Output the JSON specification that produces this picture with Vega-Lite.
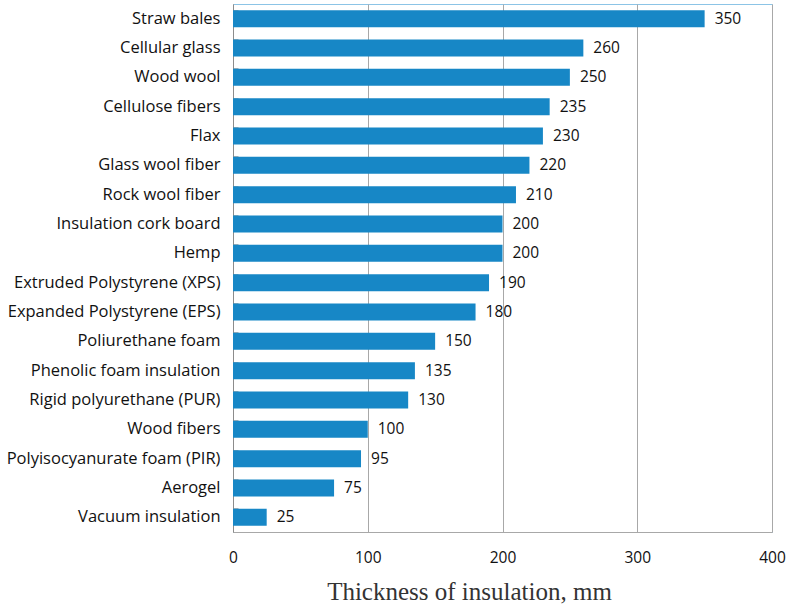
{
  "$schema": "https://vega.github.io/schema/vega-lite/v6.json",
  "autosize": {"type": "none"},
  "padding": {"left": 233, "top": 4, "right": 17, "bottom": 74},
  "width": 539,
  "height": 528,
  "background": "white",
  "data": {
    "values": [
      {"material": "Straw bales", "thickness": 350},
      {"material": "Cellular glass", "thickness": 260},
      {"material": "Wood wool", "thickness": 250},
      {"material": "Cellulose fibers", "thickness": 235},
      {"material": "Flax", "thickness": 230},
      {"material": "Glass wool fiber", "thickness": 220},
      {"material": "Rock wool fiber", "thickness": 210},
      {"material": "Insulation cork board", "thickness": 200},
      {"material": "Hemp", "thickness": 200},
      {"material": "Extruded Polystyrene (XPS)", "thickness": 190},
      {"material": "Expanded Polystyrene (EPS)", "thickness": 180},
      {"material": "Poliurethane foam", "thickness": 150},
      {"material": "Phenolic foam insulation", "thickness": 135},
      {"material": "Rigid polyurethane (PUR)", "thickness": 130},
      {"material": "Wood fibers", "thickness": 100},
      {"material": "Polyisocyanurate foam (PIR)", "thickness": 95},
      {"material": "Aerogel", "thickness": 75},
      {"material": "Vacuum insulation", "thickness": 25}
    ]
  },
  "encoding": {
    "y": {
      "field": "material",
      "type": "nominal",
      "sort": null,
      "scale": {"paddingInner": 0.42, "paddingOuter": 0.21},
      "axis": {
        "title": null,
        "bandPosition": 0,
        "tickSize": -5,
        "tickColor": "#b4b4b4",
        "domainColor": "#8c8c8c",
        "labelPadding": 18,
        "labelLimit": 300,
        "labelFont": "Open Sans",
        "labelFontSize": 16.5,
        "labelColor": "#111111"
      }
    },
    "x": {
      "field": "thickness",
      "type": "quantitative",
      "scale": {"domain": [0, 400]},
      "axis": {
        "title": "Thickness of insulation, mm",
        "values": [0, 100, 200, 300, 400],
        "ticks": false,
        "grid": true,
        "labelFlush": false,
        "gridColor": "#a8a8a8",
        "domainColor": "#a8a8a8",
        "labelPadding": 18,
        "labelFont": "Open Sans",
        "labelFontSize": 15.5,
        "labelColor": "#111111",
        "titleFont": "Liberation Serif",
        "titleFontSize": 25,
        "titleFontWeight": "normal",
        "titleColor": "#333333",
        "titlePadding": 14,
        "titleX": 236,
        "titleAlign": "center"
      }
    }
  },
  "layer": [
    {"mark": {"type": "bar", "color": "#1787c6"}},
    {
      "mark": {
        "type": "text",
        "align": "left",
        "baseline": "middle",
        "dx": 10,
        "font": "Open Sans",
        "fontSize": 15.5,
        "color": "#111111"
      },
      "encoding": {"text": {"field": "thickness", "type": "quantitative"}}
    }
  ],
  "config": {
    "view": {"stroke": "#8cc4e6", "strokeWidth": 1}
  }
}
